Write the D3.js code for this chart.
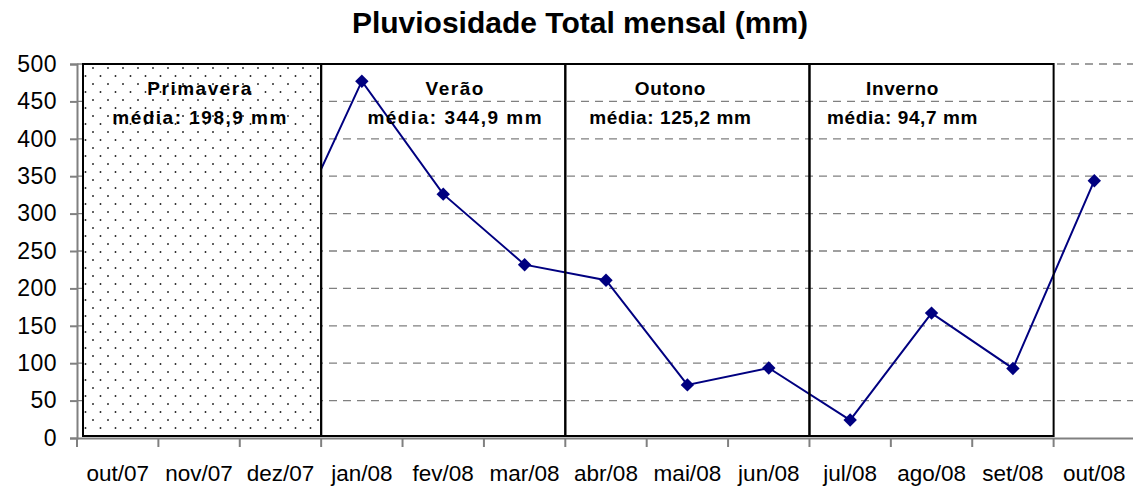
<!DOCTYPE html>
<html>
<head>
<meta charset="utf-8">
<script src="https://cdn.jsdelivr.net/npm/d3@7"></script>
<style>
  body { margin: 0; background: #fff; }
  svg { display: block; font-family: Arial, "Liberation Sans", sans-serif; }
</style>
</head>
<body>
<svg width="1133" height="488"></svg>
<script>
// Data
var months = ["out/07", "nov/07", "dez/07", "jan/08", "fev/08", "mar/08", "abr/08",
              "mai/08", "jun/08", "jul/08", "ago/08", "set/08", "out/08"];
var rain = [160, 195, 242, 477, 326, 231.7, 211, 71, 93.6, 24, 167, 93, 344];
var yTicks = [0, 50, 100, 150, 200, 250, 300, 350, 400, 450, 500];

// seasons: first month, last month, label, mean
var seasonNames = ["Primavera", "Verão", "Outono", "Inverno"];
var seasonMeans = ["198,9", "344,9", "125,2", "94,7"];
var seasonStart = [0, 3, 6, 9];
var seasonEnd = [2, 5, 8, 11];

var svg = d3.select("svg");
var plotLeft = 77, plotRight = 1135, plotTop = 64, plotBottom = 438;

var x = d3.scaleBand().domain(months).range([plotLeft, plotRight]);
var y = d3.scaleLinear().domain([0, 500]).range([plotBottom, plotTop]);

// dotted pattern for Primavera box
var defs = svg.append("defs");
var pat = defs.append("pattern")
  .attr("id", "dots")
  .attr("patternUnits", "userSpaceOnUse")
  .attr("width", 15).attr("height", 16);
pat.append("rect").attr("width", 15).attr("height", 16).attr("fill", "#fff");
pat.append("circle").attr("cx", 3).attr("cy", 4).attr("r", 0.95).attr("fill", "#222");
pat.append("circle").attr("cx", 10.5).attr("cy", 12).attr("r", 0.95).attr("fill", "#222");

// title
svg.append("text")
  .attr("x", 580).attr("y", 33)
  .attr("text-anchor", "middle")
  .style("font-size", "30px").style("font-weight", "bold")
  .text("Pluviosidade Total mensal (mm)");

// gridlines
svg.append("g")
  .selectAll("line")
  .data(yTicks.filter(d => d > 0))
  .enter().append("line")
  .attr("x1", plotLeft).attr("x2", plotRight)
  .attr("y1", d => y(d)).attr("y2", d => y(d))
  .attr("stroke", "#808080")
  .attr("stroke-width", 1.3)
  .attr("stroke-dasharray", "8,6");

// y axis
var yAxis = svg.append("g")
  .attr("transform", "translate(" + plotLeft + ",0)")
  .call(d3.axisLeft(y).tickValues(yTicks).tickSize(7).tickPadding(13));
yAxis.selectAll("text").style("font-size", "23px").attr("fill", "#000").attr("letter-spacing", "0.5px");
yAxis.selectAll("line, path").attr("stroke", "#808080").attr("stroke-width", 2);

// x axis
var xAxis = svg.append("g")
  .attr("transform", "translate(0," + plotBottom + ")")
  .call(d3.axisBottom(x).tickSize(0).tickPadding(27));
xAxis.selectAll("text").style("font-size", "22.5px").attr("fill", "#000");
xAxis.select("path").attr("stroke", "#808080").attr("stroke-width", 2);
// tick marks sit between months
xAxis.selectAll(".sep")
  .data(months)
  .enter().append("line")
  .attr("x1", d => x(d)).attr("x2", d => x(d))
  .attr("y1", 0).attr("y2", 9)
  .attr("stroke", "#808080").attr("stroke-width", 2);

// line and markers
var line = d3.line()
  .x((d, i) => x(months[i]) + x.bandwidth() / 2)
  .y(d => y(d));

svg.append("path")
  .datum(rain)
  .attr("d", line)
  .attr("fill", "none")
  .attr("stroke", "#000080")
  .attr("stroke-width", 2);

// square diamonds, as in the spreadsheet markers
svg.append("g")
  .selectAll("path")
  .data(rain)
  .enter().append("path")
  .attr("d", d3.symbol().type(d3.symbolSquare).size(90))
  .attr("transform", (d, i) => "translate(" + (x(months[i]) + x.bandwidth() / 2) + "," + y(d) + ") rotate(45)")
  .attr("fill", "#000080");

// season boxes (text boxes in the original are not quite centred)
var shift = [-2, 12, -17, -29];
var spacing = [1.5, 1.5, 0.6, 0.6];
var boxes = svg.append("g");
seasonNames.forEach(function (name, i) {
  var x0 = x(months[seasonStart[i]]);
  if (i === 0) x0 += 6;
  var x1 = x(months[seasonEnd[i]]) + x.bandwidth();
  boxes.append("rect")
    .attr("x", x0).attr("y", plotTop)
    .attr("width", x1 - x0).attr("height", plotBottom - 2 - plotTop)
    .attr("fill", i === 0 ? "url(#dots)" : "none")
    .attr("stroke", "#000").attr("stroke-width", 2);
  var cx = (x0 + x1) / 2 + shift[i];
  var lab = boxes.append("text")
    .attr("text-anchor", "middle")
    .style("font-size", "19px").style("font-weight", "bold")
    .attr("letter-spacing", spacing[i] + "px");
  lab.append("tspan").attr("x", cx).attr("y", 95).text(name);
  lab.append("tspan").attr("x", cx).attr("y", 124).text("média: " + seasonMeans[i] + " mm");
});
</script>
</body>
</html>
